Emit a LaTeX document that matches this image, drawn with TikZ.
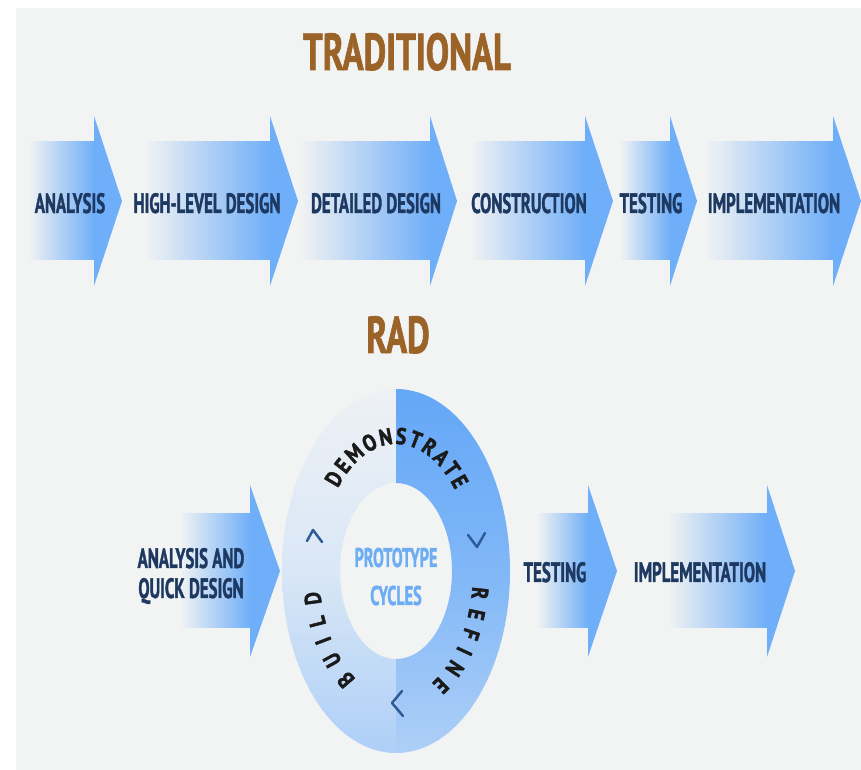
\documentclass[tikz,border=0pt]{standalone}
\usepackage{fontspec}
\setmainfont{PT Sans}
\newfontfamily\labfont{PT Sans}[FakeStretch=0.6, FakeBold=1.2]
\newfontfamily\titlefont{PT Sans}[FakeStretch=0.67, FakeBold=1.2]
\newfontfamily\ringfnt{PT Sans}[FakeStretch=0.85, FakeBold=1.8]
\usetikzlibrary{decorations.text}
\definecolor{bgc}{HTML}{F2F3F3}
\definecolor{navy}{HTML}{1D3961}
\definecolor{brownt}{HTML}{9B6328}
\definecolor{arrowblue}{HTML}{6FAEF8}
\definecolor{ringtop}{HTML}{EEF1F5}
\definecolor{ringmid}{HTML}{D9E7F6}
\definecolor{ringbot}{HTML}{AECFF7}
\definecolor{ringdark}{HTML}{64A7F7}
\definecolor{ringdmid}{HTML}{80B7F7}
\definecolor{protoblue}{HTML}{6CADF4}
\definecolor{chev}{HTML}{2E5C98}
\definecolor{ringtext}{HTML}{1A1A1A}
\newcommand\ringstyle{\ringfnt\bfseries\fontsize{23}{23}\selectfont\color{ringtext}}
\newcommand\flowarrow[6]{%
  \shade[left color=bgc, right color=arrowblue] (#1,#4-#5) rectangle (#2+0.5,#4+#5);
  \fill[arrowblue] (#2,#4-#6) -- (#3,#4) -- (#2,#4+#6) -- cycle;}
\begin{document}
\begin{tikzpicture}[x=1pt,y=1pt,
  lab/.style={font=\labfont\bfseries\fontsize{28}{29}\selectfont, text=navy, inner sep=0pt, anchor=base},
  titletext/.style={font=\titlefont\bfseries\fontsize{52}{54}\selectfont, text=brownt, inner sep=0pt, anchor=base},
  proto/.style={font=\labfont\bfseries\fontsize{27}{38}\selectfont, text=protoblue, inner sep=0pt, anchor=base, align=center},
  chevron/.style={draw=chev, line width=2.5pt, line cap=round, line join=round},
  ringword/.style={decorate, decoration={text along path, text={|\ringstyle|#1}, text align=fit to path, raise=-8pt}}]
\useasboundingbox (0,0) rectangle (861,770);
\fill[white] (0,0) rectangle (861,770);
\fill[bgc] (16,0) rectangle (861,762);

% titles
\node[titletext] (trad) at (407,700) {TRADITIONAL};
\node[titletext] (rad) at (398,417) {RAD};

% traditional arrows
\flowarrow{28}{94}{122}{569}{59}{85}
\flowarrow{145}{270}{298}{569}{59}{85}
\flowarrow{300}{430}{457}{569}{59}{85}
\flowarrow{470}{585}{613}{569}{59}{85}
\flowarrow{620}{670}{697}{569}{59}{85}
\flowarrow{705}{833}{861}{569}{59}{85}
\node[lab] (t1) at (70,557) {ANALYSIS};
\node[lab] (t2) at (207,557) {HIGH-LEVEL DESIGN};
\node[lab] (t3) at (376,557) {DETAILED DESIGN};
\node[lab] (t4) at (529,557) {CONSTRUCTION};
\node[lab] (t5) at (651,557) {TESTING};
\node[lab] (t6) at (774,557) {IMPLEMENTATION};

% RAD arrows
\flowarrow{180}{250}{280}{199}{57}{86}
\flowarrow{537}{588}{617}{199}{57}{86}
\flowarrow{668}{767}{795}{199}{57}{86}
\node[lab, align=center, font=\labfont\bfseries\fontsize{28}{30}\selectfont] (r1) at (191,172) {ANALYSIS AND\\QUICK DESIGN};
\node[lab] (r2) at (555,188) {TESTING};
\node[lab] (r3) at (700,188) {IMPLEMENTATION};

% ring
\begin{scope}
  \clip (260,5) rectangle (396,395);
  \shade[even odd rule, top color=ringtop, bottom color=ringbot, middle color=ringmid]
    (396,199) ellipse [x radius=114, y radius=182] (396,199) ellipse [x radius=56, y radius=88];
\end{scope}
\begin{scope}
  \clip (396,5) rectangle (530,395);
  \shade[even odd rule, top color=ringdark, bottom color=ringbot, middle color=ringdmid]
    (396,199) ellipse [x radius=114, y radius=182] (396,199) ellipse [x radius=56, y radius=88];
\end{scope}

\node[proto] (pc) at (396,165) {PROTOTYPE\\CYCLES};

\path[ringword=DEMONSTRATE] (396,199) ++(140:85 and 135) arc[start angle=140, end angle=39, x radius=85, y radius=135];
\path[ringword=REFINE] (396,199) ++(-7:85 and 135) arc[start angle=-7, end angle=-61, x radius=85, y radius=135];
\path[ringword=BUILD] (396,199) ++(237:85 and 135) arc[start angle=237, end angle=189, x radius=85, y radius=135];

% chevrons
\draw[chevron] (307,229) -- (313,240) -- (322,228);
\draw[chevron] (468,235) -- (477,223) -- (485,237);
\draw[chevron] (402,79) -- (392,67) -- (403,54);
\end{tikzpicture}
\end{document}
